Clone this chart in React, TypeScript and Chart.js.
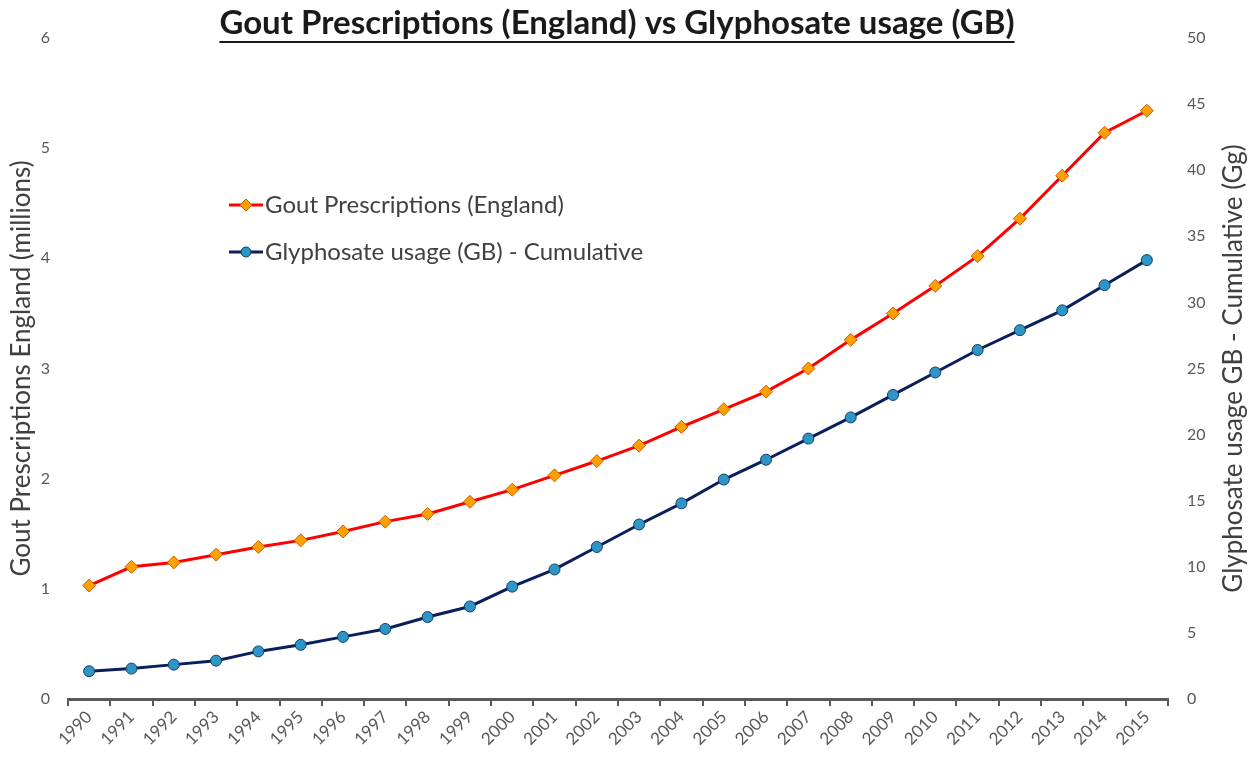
import React, { useEffect, useRef } from "react";
import { Chart, registerables } from "chart.js";

Chart.register(...registerables);

const years = [
  "1990", "1991", "1992", "1993", "1994", "1995", "1996", "1997", "1998", "1999",
  "2000", "2001", "2002", "2003", "2004", "2005", "2006", "2007", "2008", "2009",
  "2010", "2011", "2012", "2013", "2014", "2015",
];

const goutPrescriptions = [
  1.03, 1.2, 1.24, 1.31, 1.38, 1.44, 1.52, 1.61, 1.68, 1.79,
  1.9, 2.03, 2.16, 2.3, 2.47, 2.63, 2.79, 3.0, 3.26, 3.5,
  3.75, 4.02, 4.36, 4.75, 5.14, 5.34,
];

const glyphosateCumulative = [
  2.1, 2.3, 2.6, 2.9, 3.6, 4.1, 4.7, 5.3, 6.2, 7.0,
  8.5, 9.8, 11.5, 13.2, 14.8, 16.6, 18.1, 19.7, 21.3, 23.0,
  24.7, 26.4, 27.9, 29.4, 31.3, 33.2,
];

const titleText = "Gout Prescriptions (England) vs Glyphosate usage (GB)";
const goutLabel = "Gout Prescriptions (England)";
const glyphLabel = "Glyphosate usage (GB) - Cumulative";
const leftAxisTitle = "Gout Prescriptions England (millions)";
const rightAxisTitle = "Glyphosate usage GB - Cumulative (Gg)";

const FONT = "Lato, 'Open Sans', sans-serif";
const RED = "#FF0000";
const ORANGE = "#FFA000";
const ORANGE_EDGE = "#C8600A";
const NAVY = "#0A1F5C";
const BLUE = "#2E95C4";
const BLUE_EDGE = "#0F3E6E";

const titlePlugin = {
  id: "customTitle",
  afterDraw(chart: any) {
    const ctx = chart.ctx;
    ctx.save();
    ctx.font = `bold 33px ${FONT}`;
    ctx.fillStyle = "#1a1a1a";
    ctx.textAlign = "center";
    ctx.textBaseline = "middle";
    const cx = 617;
    const cy = 23;
    ctx.fillText(titleText, cx, cy);
    const w = ctx.measureText(titleText).width;
    ctx.fillRect(cx - w / 2, 41, w, 2);

    // axis titles, both reading bottom-to-top
    const midY = (chart.chartArea.top + chart.chartArea.bottom) / 2;
    ctx.font = `26px ${FONT}`;
    ctx.fillStyle = "#404040";
    ctx.save();
    ctx.translate(22, midY);
    ctx.rotate(-Math.PI / 2);
    ctx.fillText(leftAxisTitle, 0, 0);
    ctx.restore();
    ctx.save();
    ctx.translate(1234, midY);
    ctx.rotate(-Math.PI / 2);
    ctx.fillText(rightAxisTitle, 0, 0);
    ctx.restore();
    ctx.restore();
  },
};

const legendPlugin = {
  id: "customLegend",
  afterDraw(chart: any) {
    const ctx = chart.ctx;
    ctx.save();
    const items = [
      { label: goutLabel, y: 205, line: RED, fill: ORANGE, edge: ORANGE_EDGE, shape: "diamond" },
      { label: glyphLabel, y: 252, line: NAVY, fill: BLUE, edge: BLUE_EDGE, shape: "circle" },
    ];
    for (const it of items) {
      ctx.strokeStyle = it.line;
      ctx.lineWidth = 3;
      ctx.beginPath();
      ctx.moveTo(229, it.y);
      ctx.lineTo(263, it.y);
      ctx.stroke();
      ctx.fillStyle = it.fill;
      ctx.strokeStyle = it.edge;
      ctx.lineWidth = 1;
      ctx.beginPath();
      if (it.shape === "diamond") {
        const r = 6;
        ctx.moveTo(246, it.y - r);
        ctx.lineTo(246 + r, it.y);
        ctx.lineTo(246, it.y + r);
        ctx.lineTo(246 - r, it.y);
        ctx.closePath();
      } else {
        ctx.arc(246, it.y, 5, 0, Math.PI * 2);
      }
      ctx.fill();
      ctx.stroke();
      ctx.fillStyle = "#404040";
      ctx.font = `24px ${FONT}`;
      ctx.textAlign = "left";
      ctx.textBaseline = "middle";
      ctx.fillText(it.label, 265, it.y);
    }
    ctx.restore();
  },
};

export default function App() {
  const canvasRef = useRef<HTMLCanvasElement | null>(null);

  useEffect(() => {
    if (!canvasRef.current) return;
    const chart = new Chart(canvasRef.current, {
      type: "line",
      data: {
        labels: years,
        datasets: [
          {
            label: goutLabel,
            data: goutPrescriptions,
            yAxisID: "y",
            borderColor: RED,
            borderWidth: 3,
            tension: 0,
            pointStyle: "rectRot",
            pointRadius: 6.5,
            pointBackgroundColor: ORANGE,
            pointBorderColor: ORANGE_EDGE,
            pointBorderWidth: 1,
          },
          {
            label: glyphLabel,
            data: glyphosateCumulative,
            yAxisID: "y1",
            borderColor: NAVY,
            borderWidth: 3,
            tension: 0,
            pointStyle: "circle",
            pointRadius: 5.5,
            pointBackgroundColor: BLUE,
            pointBorderColor: BLUE_EDGE,
            pointBorderWidth: 1,
          },
        ],
      },
      options: {
        responsive: false,
        animation: false,
        devicePixelRatio: 1,
        layout: { padding: { top: 38, left: 0, right: 0, bottom: 0 } },
        plugins: {
          legend: { display: false },
          title: { display: false },
          tooltip: { enabled: false },
        },
        scales: {
          x: {
            type: "category",
            offset: true,
            grid: {
              display: true,
              drawOnChartArea: false,
              drawTicks: true,
              tickLength: 7,
              color: "#595959",
              lineWidth: 2,
              offset: true,
            },
            border: { display: true, color: "#595959", width: 3 },
            ticks: {
              autoSkip: false,
              maxRotation: 45,
              minRotation: 45,
              padding: 1,
              color: "#595959",
              font: { family: FONT, size: 17 },
            },
            afterFit: (s: any) => {
              s.height = 61;
            },
          },
          y: {
            position: "left",
            min: 0,
            max: 6,
            grid: { display: false },
            border: { display: false },
            ticks: {
              stepSize: 1,
              padding: 10,
              color: "#595959",
              font: { family: FONT, size: 16 },
            },
            afterFit: (s: any) => {
              s.width = 68;
            },
          },
          y1: {
            position: "right",
            min: 0,
            max: 50,
            grid: { display: false },
            border: { display: false },
            ticks: {
              stepSize: 5,
              padding: 11,
              color: "#595959",
              font: { family: FONT, size: 16 },
            },
            afterFit: (s: any) => {
              s.width = 87;
            },
          },
        },
      },
      plugins: [titlePlugin, legendPlugin],
    });
    return () => chart.destroy();
  }, []);

  return (
    <div style={{ position: "absolute", left: 0, top: 0, width: 1255, height: 760, background: "#fff" }}>
      <canvas ref={canvasRef} width={1255} height={760} style={{ display: "block" }} />
    </div>
  );
}
